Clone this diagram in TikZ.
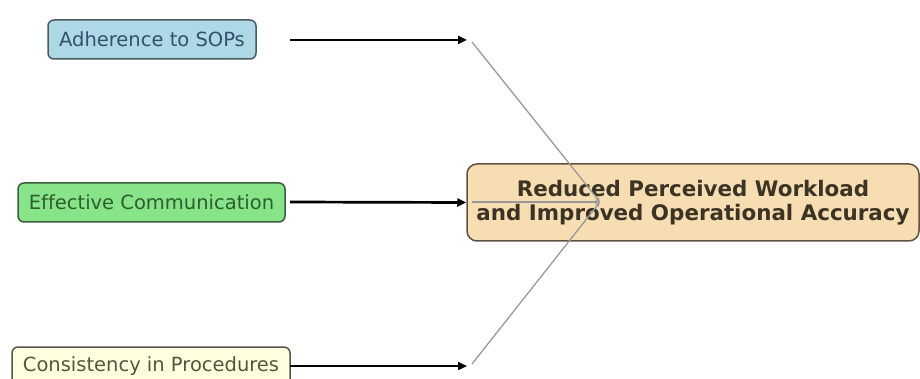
\documentclass[tikz,border=0pt]{standalone}
\usepackage{fontspec}
\setmainfont[Ligatures=NoCommon]{DejaVu Sans}
\usetikzlibrary{arrows.meta}
\definecolor{sopfill}{HTML}{ADD8E6}
\definecolor{sopline}{HTML}{4A5A62}
\definecolor{soptext}{HTML}{34506B}
\definecolor{comfill}{HTML}{88E488}
\definecolor{comline}{HTML}{3C5A3C}
\definecolor{comtext}{HTML}{2D5E2D}
\definecolor{cnsfill}{HTML}{FFFFE0}
\definecolor{cnsline}{HTML}{55554A}
\definecolor{cnstext}{HTML}{55553F}
\definecolor{resfill}{HTML}{F6DEB2}
\definecolor{resline}{HTML}{5E5340}
\definecolor{restext}{HTML}{3B3324}
\definecolor{greyline}{HTML}{999999}
\tikzset{
  srcbox/.style={draw, rounded corners=6pt, line width=1.5pt, inner sep=0pt,
    minimum height=39pt, font=\fontsize{19.5}{23}\selectfont},
  resbox/.style={draw=resline, fill=resfill, text=restext, rounded corners=10pt,
    line width=1.5pt, inner sep=0pt, minimum width=452pt, minimum height=77pt,
    align=center, font=\fontsize{21.4}{24}\selectfont\bfseries},
  mainarrow/.style={line width=2.7pt, -{Triangle[length=9pt,width=8pt]}},
  thinarrow/.style={draw=greyline, line width=1.3pt, -{Stealth[length=5pt,width=4pt]}}
}
\begin{document}
\begin{tikzpicture}[x=1pt,y=-1pt]
\useasboundingbox (0,0) rectangle (920,379);
\node[srcbox, draw=sopline, fill=sopfill, text=soptext, minimum width=208pt] (sop) at (152,39.5) {Adherence to SOPs};
\node[srcbox, draw=comline, fill=comfill, text=comtext, minimum width=267pt] (com) at (151.5,202.5) {Effective Communication};
\node[srcbox, draw=cnsline, fill=cnsfill, text=cnstext, minimum width=278pt] (cns) at (151,366.5) {Consistency in Procedures};
\node[resbox] (res) at (693,202.5) {Reduced Perceived Workload\\and Improved Operational Accuracy};
\coordinate (s1) at (290,40);
\coordinate (s2) at (290,202);
\coordinate (s3) at (290,366);
\coordinate (e1) at (467,40);
\coordinate (e3) at (467,366);
\coordinate (g1) at (472,42);
\coordinate (g2) at (472,202);
\coordinate (g3) at (472,364);
\coordinate (hub) at (600,202);
\draw[mainarrow] (s1) -- (e1);
\draw[mainarrow] (s2) -- (res.west);
\draw[mainarrow] (s3) -- (e3);
\draw[thinarrow] (g1) -- (hub);
\draw[thinarrow] (g2) -- (hub);
\draw[thinarrow] (g3) -- (hub);
\end{tikzpicture}
\end{document}
